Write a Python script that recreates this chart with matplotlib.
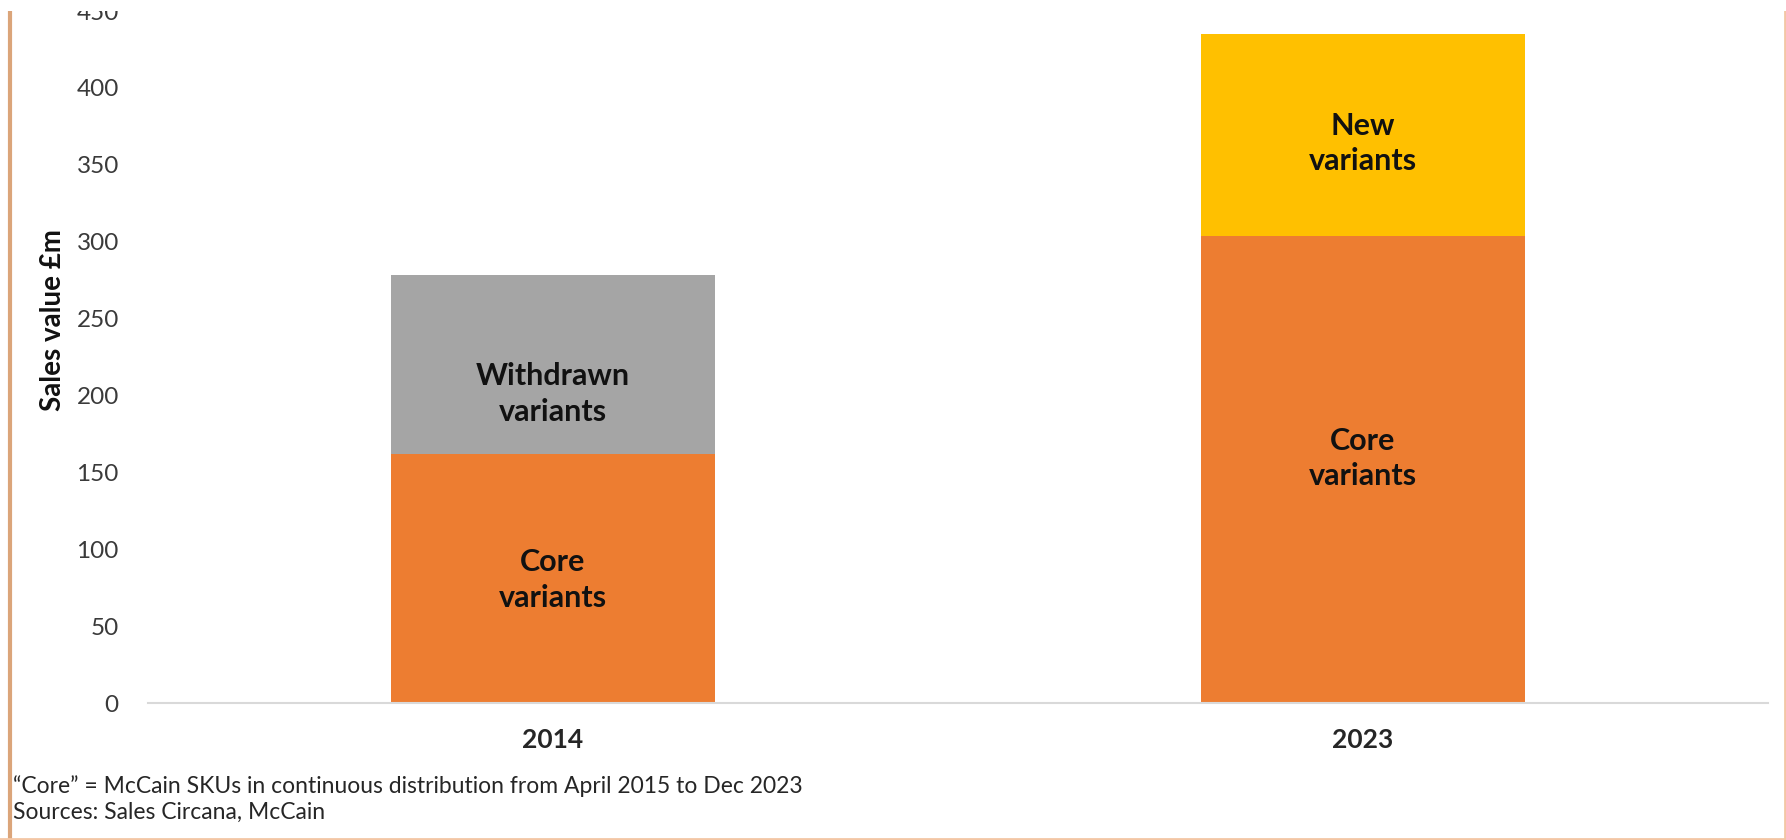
import numpy as np
import matplotlib.pyplot as plt
from matplotlib.lines import Line2D
from matplotlib.patches import Rectangle

# Sales value (£m) by variant group
years = ['2014', '2023']
core = [162, 304]
withdrawn = [116, 0]
new = [0, 131]

seg_labels = [('Core\nvariants', 'Withdrawn\nvariants'),
              ('Core\nvariants', 'New\nvariants')]
# heights at which the segment labels sit
label_y = [(80, 201), (159, 364)]

ORANGE = '#ED7D31'
GREY = '#A5A5A5'
YELLOW = '#FFC000'

plt.rcParams['font.family'] = ['Lato', 'DejaVu Sans']

fig = plt.figure(figsize=(17.86, 8.4), dpi=100)
ax = fig.add_axes([148 / 1786, 1 - 703 / 840, 1620 / 1786, 692 / 840])

x = np.arange(len(years))
w = 0.4
ax.bar(x, core, width=w, color=ORANGE, linewidth=0)
ax.bar(x, withdrawn, width=w, bottom=core, color=GREY, linewidth=0)
ax.bar(x, new, width=w, bottom=np.add(core, withdrawn), color=YELLOW, linewidth=0)

for i in range(len(years)):
    for txt, yy in zip(seg_labels[i], label_y[i]):
        ax.text(x[i], yy, txt, ha='center', va='center', fontsize=22,
                fontweight='bold', color='#111111', linespacing=1.32)

ax.set_xlim(-0.5, 1.5)
ax.set_ylim(0, 450)
ax.set_yticks(np.arange(0, 451, 50))
ax.set_xticks(x)
ax.set_xticklabels(years, fontsize=19, fontweight='bold', color='#262626')
ax.tick_params(axis='y', length=0, pad=21, labelsize=17.5, labelcolor='#3a3a3a')
ax.tick_params(axis='x', length=0, pad=18)

for side in ['left', 'right', 'top']:
    ax.spines[side].set_visible(False)
ax.spines['bottom'].set_color('#d9d9d9')
ax.spines['bottom'].set_linewidth(1.5)

fig.text(53 / 1786, 1 - 320 / 840, 'Sales value £m', rotation=90,
         ha='center', va='center', fontsize=20, fontweight='bold', color='#111111')

fig.text(13 / 1786, 1 - 786 / 840,
         '\u201cCore\u201d = McCain SKUs in continuous distribution from April 2015 to Dec 2023',
         ha='left', va='center', fontsize=16.5, color='#262626')
fig.text(13 / 1786, 1 - 812 / 840, 'Sources: Sales Circana, McCain',
         ha='left', va='center', fontsize=16.5, color='#262626')

# panel frame; the strip above it stays blank
top = 1 - 11 / 840
fig.add_artist(Rectangle((0, top), 1, 1 - top, transform=fig.transFigure,
                         facecolor='white', edgecolor='none', zorder=10))
fig.add_artist(Line2D([9.5 / 1786, 9.5 / 1786], [0, top], color='#dba57a', lw=3))
fig.add_artist(Line2D([0, 1], [1.5 / 840, 1.5 / 840], color='#f3c6a5', lw=2))
fig.add_artist(Line2D([1784.5 / 1786, 1784.5 / 1786], [0, top], color='#f3c6a5', lw=2))

fig.savefig('out.png', dpi=100)
